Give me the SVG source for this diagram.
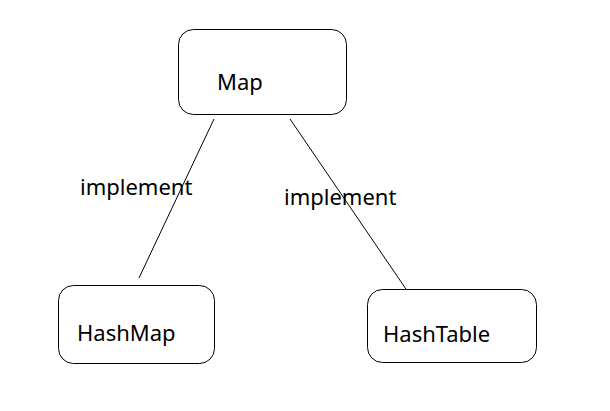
<svg xmlns="http://www.w3.org/2000/svg" width="610" height="411" viewBox="0 0 610 411">
  <style>
    .box { fill: #ffffff; stroke: #000000; stroke-width: 1; }
    .label { font-family: "Noto Sans", "Open Sans", sans-serif; font-size: 22px; fill: #000000; }
    .edge { stroke: #000000; stroke-width: 1; fill: none; }
  </style>
  <rect x="0" y="0" width="610" height="411" fill="#ffffff"/>
  <g id="connectors">
    <line class="edge" x1="214" y1="119" x2="139" y2="278"/>
    <line class="edge" x1="290" y1="119" x2="408" y2="292"/>
  </g>
  <g id="edge-labels">
    <text class="label" x="80" y="195">implement</text>
    <text class="label" x="284" y="205">implement</text>
  </g>
  <g id="node-map">
    <rect class="box" x="178.5" y="29.5" width="168" height="85" rx="15" ry="15"/>
    <text class="label" x="217" y="90">Map</text>
  </g>
  <g id="node-hashmap">
    <rect class="box" x="58.5" y="285.5" width="156" height="78" rx="15" ry="15"/>
    <text class="label" x="77" y="341">HashMap</text>
  </g>
  <g id="node-hashtable">
    <rect class="box" x="367.5" y="289.5" width="169" height="73" rx="15" ry="15"/>
    <text class="label" x="383" y="342">HashTable</text>
  </g>
</svg>
